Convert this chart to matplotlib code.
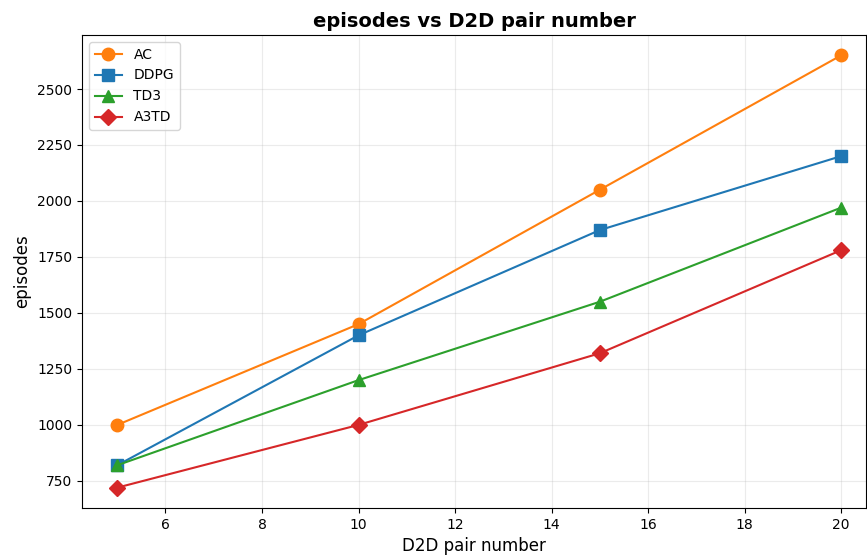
import matplotlib
matplotlib.use("Agg")
import matplotlib.pyplot as plt

x = [5, 10, 15, 20]
ac = [1000, 1450, 2050, 2650]
ddpg = [820, 1400, 1870, 2200]
td3 = [820, 1200, 1550, 1970]
a3td = [720, 1000, 1320, 1780]

fig = plt.figure(figsize=(8.67, 5.56), dpi=100)
ax = fig.add_axes([0.0946, 0.0863, 0.9044, 0.8507])
ax.plot(x, ac, marker='o', color='#ff7f0e', markersize=9, label='AC')
ax.plot(x, ddpg, marker='s', color='#1f77b4', markersize=8, label='DDPG')
ax.plot(x, td3, marker='^', color='#2ca02c', markersize=9, label='TD3')
ax.plot(x, a3td, marker='D', color='#d62728', markersize=8, label='A3TD')
ax.set_xlim(4.27, 20.52)
ax.set_ylim(629, 2741)
ax.grid(True, alpha=0.25)
ax.set_xlabel('D2D pair number', fontsize=12)
ax.set_ylabel('episodes', fontsize=12)
ax.set_title('episodes vs D2D pair number', fontsize=14, fontweight='bold')
ax.legend(loc='upper left')
fig.savefig('out.png', dpi=100)
